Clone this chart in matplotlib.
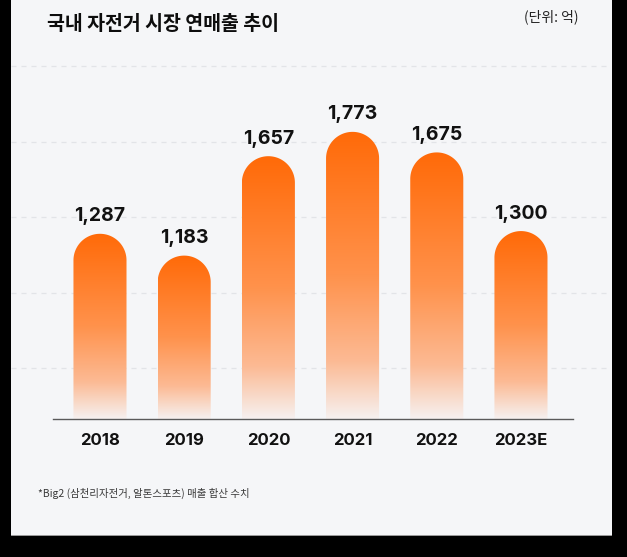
import numpy as np
import matplotlib
matplotlib.use("Agg")
import matplotlib.pyplot as plt
from matplotlib.patches import PathPatch, Rectangle
from matplotlib.path import Path

# ---- data ----
years = ["2018", "2019", "2020", "2021", "2022", "2023E"]
sales = [1287, 1183, 1657, 1773, 1675, 1300]
value_labels = ["1,287", "1,183", "1,657", "1,773", "1,675", "1,300"]
title = "국내 자전거 시장 연매출 추이"
unit = "(단위: 억)"
note = "*Big2 (삼천리자전거, 알톤스포츠) 매출 합산 수치"

W, H = 627, 557
DPI = 100
fig = plt.figure(figsize=(W / DPI, H / DPI), dpi=DPI, facecolor="black")

CARD = "#F5F6F8"
# card background
fig.patches.append(Rectangle((11 / W, (H - 535) / H), (612 - 11) / W, 535 / H,
                             transform=fig.transFigure, facecolor=CARD,
                             edgecolor="none", zorder=-10))
fig.patches.append(Rectangle((11 / W, (H - 536) / H), (612 - 11) / W, 1.2 / H,
                             transform=fig.transFigure, facecolor="#9a9a9a",
                             edgecolor="none", zorder=-10))

ax_left, ax_right = 53, 573
ax_base, ax_top = 419, 66
ax = fig.add_axes([ax_left / W, (H - ax_base) / H,
                   (ax_right - ax_left) / W, (ax_base - ax_top) / H])
ax.set_facecolor("none")
ax.set_zorder(1)

ymin, ymax = 404, 2087
xmin, xmax = -0.558, 5.618
ax.set_xlim(xmin, xmax)
ax.set_ylim(ymin, ymax)

# dashed gridlines (axes fractions), spanning the card width
gfr = [1.0, 0.785, 0.572, 0.357, 0.144]
gx0 = (11 - ax_left) / (ax_right - ax_left)
gx1 = (611 - ax_left) / (ax_right - ax_left)
for f in gfr:
    ax.plot([gx0, gx1], [f, f], transform=ax.transAxes, color="#E2E4E8",
            lw=0.9, ls=(0, (4, 4)), clip_on=False, zorder=0)

# gradient colours from top (0) to bottom (1)
anchors_t = [0.0, 0.5, 0.8, 1.0]
anchors_c = np.array([[255, 106, 8], [255, 146, 76], [252, 186, 148], [246, 241, 240]]) / 255.0
N = 256
tt = np.linspace(0, 1, N)
grad = np.zeros((N, 1, 4))
for k in range(3):
    grad[:, 0, k] = np.interp(tt, anchors_t, anchors_c[:, k])
grad[:, 0, 3] = 1.0

bar_w = 0.63
px_per_x = (ax_right - ax_left) / (xmax - xmin)
px_per_y = (ax_base - ax_top) / (ymax - ymin)
r_px = bar_w * px_per_x / 2
ry = r_px / px_per_y

for i, v in enumerate(sales):
    x0, x1 = i - bar_w / 2, i + bar_w / 2
    cy = v - ry
    th = np.linspace(np.pi, 0, 60)
    arc = np.column_stack([i + (bar_w / 2) * np.cos(th), cy + ry * np.sin(th)])
    verts = np.vstack([[x0, ymin], [x0, cy], arc, [x1, cy], [x1, ymin], [x0, ymin]])
    codes = [Path.MOVETO] + [Path.LINETO] * (len(verts) - 2) + [Path.CLOSEPOLY]
    patch = PathPatch(Path(verts, codes), facecolor="none", edgecolor="none",
                      transform=ax.transData)
    ax.add_patch(patch)
    im = ax.imshow(grad, extent=[x0, x1, ymin, v], origin="upper",
                   aspect="auto", zorder=2, interpolation="bilinear")
    im.set_clip_path(patch)
    ax.annotate(value_labels[i], xy=(i, v), xytext=(0, 9),
                textcoords="offset points", ha="center", va="baseline",
                fontsize=14, fontweight="bold", family=["Inter", "DejaVu Sans"],
                color="#111111", zorder=3)

ax.set_xlim(xmin, xmax)
ax.set_ylim(ymin, ymax)

for s in ["top", "right", "left"]:
    ax.spines[s].set_visible(False)
ax.spines["bottom"].set_color("#5a5a5a")
ax.spines["bottom"].set_linewidth(1.0)
ax.spines["bottom"].set_zorder(4)
ax.set_yticks([])
ax.set_xticks(range(len(years)))
ax.set_xticklabels(years, fontsize=12, fontweight="bold",
                   family=["Inter", "DejaVu Sans"], color="#111111")
ax.tick_params(axis="x", length=0, pad=10)

fig.text(47 / W, 1 - 25 / H, title, ha="left", va="center", fontsize=14,
         fontweight="heavy", family=["Noto Sans CJK KR", "DejaVu Sans"],
         color="#0d0d0d")
fig.text(578 / W, 1 - 17 / H, unit, ha="right", va="center", fontsize=10,
         family=["Noto Sans CJK KR", "DejaVu Sans"], color="#222222")
fig.text(38 / W, 1 - 493 / H, note, ha="left", va="center", fontsize=7.5,
         family=["Noto Sans CJK KR", "DejaVu Sans"], color="#3a3a3a")

fig.savefig("out.png", dpi=DPI, facecolor="black")
